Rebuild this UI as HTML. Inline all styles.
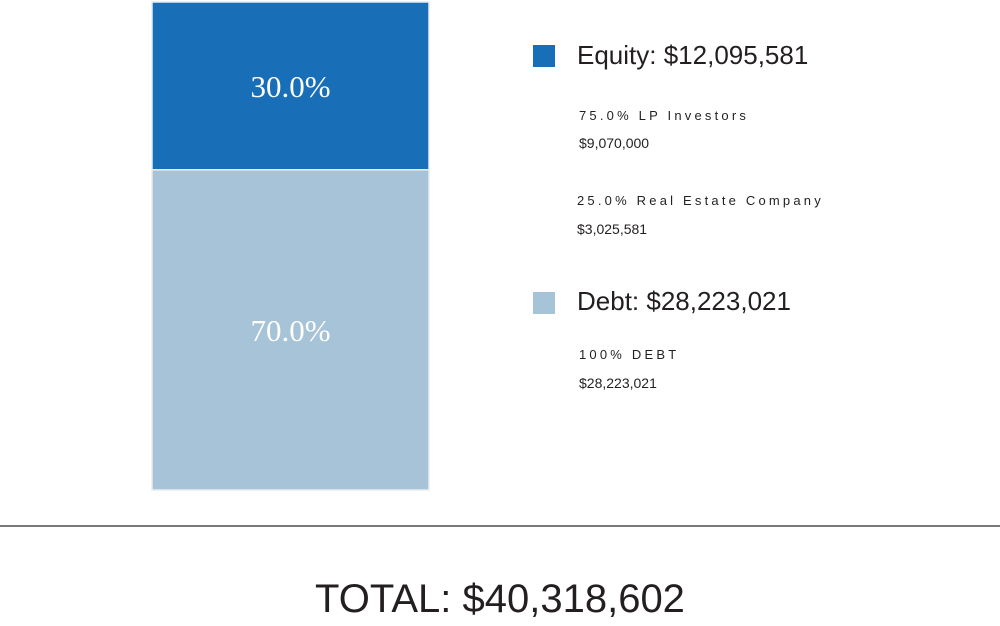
<!DOCTYPE html>
<html><head><meta charset="utf-8"><style>
body{margin:0;width:1000px;height:626px;background:#fff;overflow:hidden;font-family:"Liberation Sans",sans-serif;color:#231f20}
.t{position:absolute;white-space:nowrap}
.big{font-size:26px}
.sub{font-size:13px;letter-spacing:3.2px}
.amt{font-size:14px}
.sq{position:absolute;width:22px;height:22px}
</style></head><body>
<svg id="chart" width="1000" height="626" style="position:absolute;left:0;top:0"></svg>
<div class="sq" style="left:533px;top:45px;background:#186eb7"></div>
<div class="t big" style="left:577px;top:40px">Equity: $12,095,581</div>
<div class="t sub" style="left:579px;top:108px">75.0% LP Investors</div>
<div class="t amt" style="left:579px;top:135px">$9,070,000</div>
<div class="t sub" style="left:577px;top:193px">25.0% Real Estate Company</div>
<div class="t amt" style="left:577px;top:221px">$3,025,581</div>
<div class="sq" style="left:533px;top:292px;background:#a6c3d7"></div>
<div class="t big" style="left:577px;top:286px">Debt: $28,223,021</div>
<div class="t sub" style="left:579px;top:347px">100% DEBT</div>
<div class="t amt" style="left:579px;top:375px">$28,223,021</div>
<div style="position:absolute;left:0;top:525px;width:1000px;height:2px;background:#7a7a7a"></div>
<div class="t" style="left:0;width:1000px;text-align:center;top:577px;font-size:40px">TOTAL: $40,318,602</div>
<script>
const categories = ["Equity", "Debt"];
const shares = [34.4, 65.6];
const labels = ["30.0%", "70.0%"];
const colors = ["#186eb7", "#a6c3d7"];
const svg = document.getElementById('chart');
const NS = 'http://www.w3.org/2000/svg';
const top0 = 2, bottom0 = 490, x0 = 152, w = 277;
const total = shares.reduce((a,b)=>a+b,0);
function yScale(v){ return top0 + v / total * (bottom0 - top0); }
let acc = 0;
shares.forEach((v,i)=>{
  const y1 = yScale(acc), y2 = yScale(acc + v);
  const r = document.createElementNS(NS,'rect');
  
  
  r.setAttribute('x', x0); r.setAttribute('y', y1);
  r.setAttribute('width', w); r.setAttribute('height', y2 - y1);
  r.setAttribute('fill', colors[i]);
  r.setAttribute('stroke', '#e8ecef'); r.setAttribute('stroke-width', '1.5');
  svg.appendChild(r);
  const t = document.createElementNS(NS,'text');
  
  
  t.setAttribute('x', x0 + w/2); t.setAttribute('y', (y1 + y2)/2 + 11);
  t.setAttribute('text-anchor', 'middle'); t.setAttribute('fill', '#fff');
  t.setAttribute('font-family', 'Liberation Serif, serif'); t.setAttribute('font-size', '31');
  t.textContent = labels[i];
  svg.appendChild(t);
  acc += v;
});
</script>
</body></html>
